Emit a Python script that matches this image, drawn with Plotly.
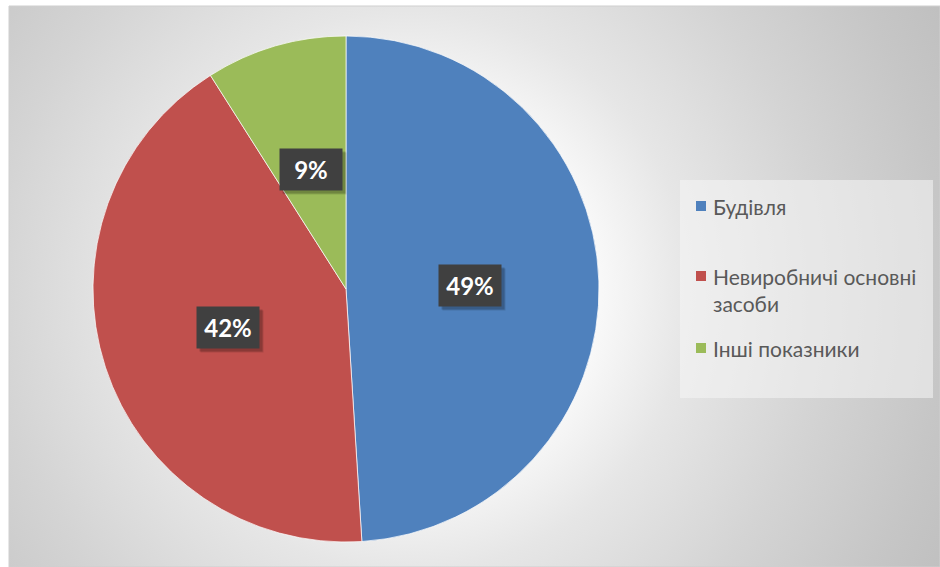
import base64
import math
import textwrap

import plotly.graph_objects as go

# Structure of fixed assets, share of each group
categories = ["Будівля", "Невиробничі основні засоби", "Інші показники"]
shares = [49, 42, 9]
colors = ["#4F81BD", "#C0504D", "#9BBB59"]

W, H = 940, 567
FONT = "Lato, 'Open Sans', sans-serif"

# Pie placement in pixels (square domain so the pie fills it)
pie_left, pie_right = 93, 599
pie_top, pie_bottom = 36, 542


def px_x(x):
    return x / W


def px_y(y):
    return 1 - y / H


fig = go.Figure()

fig.add_trace(go.Pie(
    labels=categories,
    values=shares,
    marker=dict(colors=colors, line=dict(color="rgba(255,255,255,0.7)", width=1)),
    sort=False,
    direction="clockwise",
    rotation=0,
    textinfo="none",
    hoverinfo="label+percent",
    showlegend=False,
    domain=dict(x=[px_x(pie_left), px_x(pie_right)],
                y=[px_y(pie_bottom), px_y(pie_top)]),
))

# Radial gradient backdrop for the chart area
area_x0, area_y0 = 9, 6
aw, ah = W - area_x0, H - area_y0
svg = f"""<svg xmlns='http://www.w3.org/2000/svg' width='{aw}' height='{ah}' viewBox='0 0 {aw} {ah}' preserveAspectRatio='none'>
<defs><radialGradient id='g' gradientUnits='userSpaceOnUse' cx='400' cy='285' r='610'>
<stop offset='0' stop-color='#ffffff'/>
<stop offset='0.3' stop-color='#fafafa'/>
<stop offset='0.46' stop-color='#e6e6e6'/>
<stop offset='0.68' stop-color='#d4d4d4'/>
<stop offset='0.88' stop-color='#c6c6c6'/>
<stop offset='1' stop-color='#bfbfbf'/>
</radialGradient></defs>
<rect x='0' y='0' width='{aw}' height='{ah}' fill='url(#g)'/>
</svg>"""
bg_uri = "data:image/svg+xml;base64," + base64.b64encode(svg.encode()).decode()

images = [dict(
    source=bg_uri, xref="paper", yref="paper",
    x=px_x(area_x0), y=px_y(area_y0), sizex=aw / W, sizey=ah / H,
    xanchor="left", yanchor="top", sizing="stretch", layer="below",
)]

shapes = [
    # chart area frame
    dict(type="rect", xref="paper", yref="paper",
         x0=px_x(area_x0), x1=1.0, y0=0.0, y1=px_y(area_y0),
         line=dict(color="#cfcfcf", width=1), fillcolor="rgba(0,0,0,0)", layer="below"),
    # legend panel
    dict(type="rect", xref="paper", yref="paper",
         x0=px_x(680), x1=px_x(933), y0=px_y(398), y1=px_y(180),
         line=dict(width=0), fillcolor="rgba(245,245,245,0.55)", layer="below"),
]

annotations = []

# Percentage labels in dark boxes at the middle of each slice
cx = (pie_left + pie_right) / 2
cy = (pie_top + pie_bottom) / 2
radius = (pie_right - pie_left) / 2
total = sum(shares)
cum = 0
for val in shares:
    mid = (cum + val / 2) / total * 2 * math.pi
    cum += val
    lx = cx + 0.49 * radius * math.sin(mid)
    ly = cy - 0.49 * radius * math.cos(mid)
    pct = f"{round(val / total * 100)}%"
    common = dict(x=px_x(lx), y=px_y(ly), xref="paper", yref="paper",
                  xanchor="center", yanchor="middle", showarrow=False,
                  width=60, height=39)
    for dx, dy, col in [(4, -4, "rgba(0,0,0,0.12)"), (3, -3, "rgba(0,0,0,0.18)")]:
        annotations.append(dict(
            common, text=" ", bgcolor=col, xshift=dx, yshift=dy,
            font=dict(size=24, family=FONT),
        ))
    annotations.append(dict(
        common, text=f"<b>{pct}</b>", bgcolor="#404040",
        font=dict(size=24, color="white", family=FONT),
        align="center", valign="middle",
    ))

# Legend entries
legend_rows = [206, 276, 348]
for label, col, row in zip(categories, colors, legend_rows):
    shapes.append(dict(
        type="rect", xref="paper", yref="paper",
        x0=px_x(696), x1=px_x(706), y0=px_y(row + 5), y1=px_y(row - 5),
        line=dict(width=0), fillcolor=col,
    ))
    annotations.append(dict(
        x=px_x(711), y=px_y(row - 14), xref="paper", yref="paper",
        xanchor="left", yanchor="top", align="left", showarrow=False,
        text="<br>".join(textwrap.wrap(label, 20)),
        font=dict(size=21, color="#595959", family=FONT),
    ))

fig.update_layout(
    width=W, height=H,
    margin=dict(l=0, r=0, t=0, b=0),
    paper_bgcolor="white",
    plot_bgcolor="white",
    images=images,
    shapes=shapes,
    annotations=annotations,
    showlegend=False,
)

fig.write_html("out.html")
